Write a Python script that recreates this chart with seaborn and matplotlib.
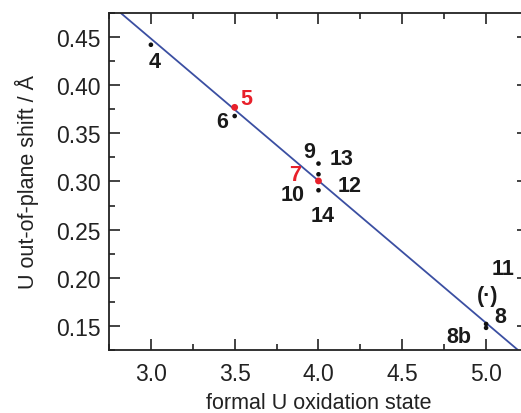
import matplotlib
matplotlib.use("Agg")
import matplotlib.pyplot as plt
import seaborn as sns
import pandas as pd
from matplotlib.ticker import MultipleLocator

# measured points (formal oxidation state, out-of-plane shift)
ox_state = [3.0, 3.5, 3.5, 4.0, 4.0, 4.0, 4.0, 5.0, 5.0]
u_shift = [0.442, 0.377, 0.368, 0.3186, 0.3075, 0.3006, 0.2909, 0.152, 0.148]
is_red = [False, True, False, False, False, True, False, False, False]

# linear fit endpoints as seen in the figure
fit_x = [2.82, 5.19]
fit_y = [0.475, 0.125]

# compound labels
labels = ["4", "5", "6", "9", "13", "7", "12", "10", "14", "11", "(·)", "8", "8b"]
label_red = [False, True, False, False, False, True, False, False, False, False, False, False, False]
label_x = [3.02, 3.571, 3.427, 3.942, 4.14, 3.862, 4.188, 3.846, 4.026, 5.104, 5.008, 5.086, 4.835]
label_y = [0.4244, 0.386, 0.362, 0.331, 0.3238, 0.3075, 0.2957, 0.2864, 0.2646, 0.2096, 0.1816, 0.1598, 0.1391]

df = pd.DataFrame({"ox": ox_state, "shift": u_shift,
                   "kind": ["red" if r else "black" for r in is_red]})

sns.set_theme(style="ticks")
plt.rcParams['font.family'] = ['Liberation Sans', 'DejaVu Sans']

fig = plt.figure(figsize=(5.21, 4.14), dpi=100)
ax = fig.add_axes([0.2092, 0.1522, 0.8042, 0.814])

sns.lineplot(x=fit_x, y=fit_y, ax=ax, color="#3b4fa2", linewidth=1.3)
sns.scatterplot(data=df[df.kind == "black"], x="ox", y="shift", ax=ax,
                color="#111111", s=11, edgecolor="none", zorder=3)
sns.scatterplot(data=df[df.kind == "red"], x="ox", y="shift", ax=ax,
                color="#e8202a", s=24, edgecolor="none", zorder=4)

for t, xx, yy, red in zip(labels, label_x, label_y, label_red):
    ax.text(xx, yy, t, ha="center", va="center", fontsize=15.5, fontweight="bold",
            color="#e8202a" if red else "#1a1a1a", clip_on=False)

ax.set_xlim(2.75, 5.25)
ax.set_ylim(0.125, 0.475)
ax.xaxis.set_major_locator(MultipleLocator(0.5))
ax.xaxis.set_minor_locator(MultipleLocator(0.25))
ax.yaxis.set_major_locator(MultipleLocator(0.05))
ax.yaxis.set_minor_locator(MultipleLocator(0.025))
ax.xaxis.set_major_formatter(plt.FormatStrFormatter("%.1f"))
ax.yaxis.set_major_formatter(plt.FormatStrFormatter("%.2f"))

ax.tick_params(which="both", direction="in", top=True, right=True, width=1.2, colors="#222222")
ax.tick_params(which="major", length=8)
ax.tick_params(which="minor", length=4.5)
ax.tick_params(axis="x", which="major", pad=9, labelsize=16.5)
ax.tick_params(axis="y", which="major", pad=6, labelsize=16.5)
for sp in ax.spines.values():
    sp.set_linewidth(1.3)
    sp.set_color("#222222")

ax.set_xlabel("formal U oxidation state", fontsize=15.5, color="#222222", labelpad=5)
ax.set_ylabel("U out-of-plane shift / Å", fontsize=15.5, color="#222222", labelpad=12)

fig.savefig("out.png", dpi=100)
